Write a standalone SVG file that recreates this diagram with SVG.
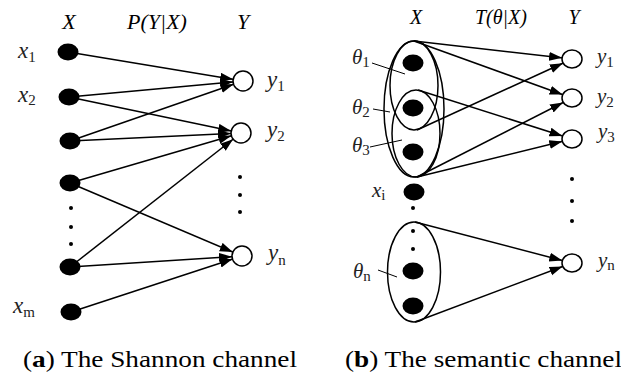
<svg xmlns="http://www.w3.org/2000/svg" width="621" height="379" viewBox="0 0 621 379">
<style>
text{font-family:"Liberation Serif","Times New Roman",serif;fill:#000}
.hl{font-size:22px;font-style:italic}
.hr{font-size:20px;font-style:italic}
.lab{font-size:23px;font-style:italic;fill:#222}
.labr{font-size:21px;font-style:italic;fill:#222}
.sub{font-size:15px;font-style:normal}
.cap{font-size:24px}
.edge{stroke:#000;stroke-width:1.5;fill:none;marker-end:url(#ah)}
.ptr{stroke:#000;stroke-width:1}
.xd{fill:#000}
.yc{fill:#fff;stroke:#000;stroke-width:1.5}
.ell{fill:none;stroke:#000;stroke-width:1.5}
.sd{fill:#000}
</style>
<defs>
<marker id="ah" markerUnits="userSpaceOnUse" markerWidth="14" markerHeight="10" refX="23" refY="4.5" orient="auto">
<path d="M0,0 L13,4.5 L0,9 z" fill="#000"/>
</marker>
</defs>

<!-- headers -->
<text class="hl" x="69" y="29" text-anchor="middle">X</text>
<text class="hl" x="157" y="29" text-anchor="middle">P(Y|X)</text>
<text class="hl" x="243" y="29" text-anchor="middle">Y</text>
<text class="hr" x="416" y="24" text-anchor="middle">X</text>
<text class="hr" x="501" y="24" text-anchor="middle">T(θ|X)</text>
<text class="hr" x="574" y="24" text-anchor="middle">Y</text>

<!-- connectors -->
<g id="connectors">
<line class="edge" x1="68" y1="52" x2="243" y2="81"/>
<line class="edge" x1="69" y1="97" x2="243" y2="81"/>
<line class="edge" x1="70" y1="141" x2="243" y2="81"/>
<line class="edge" x1="69" y1="97" x2="241" y2="133"/>
<line class="edge" x1="70" y1="141" x2="241" y2="133"/>
<line class="edge" x1="70" y1="183" x2="241" y2="133"/>
<line class="edge" x1="70" y1="267" x2="241" y2="133"/>
<line class="edge" x1="70" y1="183" x2="242" y2="256"/>
<line class="edge" x1="70" y1="267" x2="242" y2="256"/>
<line class="edge" x1="71" y1="312" x2="242" y2="256"/>

<line class="edge" x1="414" y1="41" x2="572" y2="59"/>
<line class="edge" x1="417" y1="130" x2="572" y2="59"/>
<line class="edge" x1="414" y1="41" x2="572" y2="98"/>
<line class="edge" x1="417" y1="177" x2="572" y2="98"/>
<line class="edge" x1="418" y1="90" x2="572" y2="139"/>
<line class="edge" x1="417" y1="177" x2="572" y2="139"/>
<line class="edge" x1="415" y1="222" x2="572" y2="263"/>
<line class="edge" x1="415" y1="322" x2="572" y2="263"/>
<line class="ptr" x1="372" y1="63" x2="405" y2="74"/>
<line class="ptr" x1="373" y1="109" x2="390" y2="112"/>
<line class="ptr" x1="370" y1="147" x2="402" y2="140"/>
<line class="ptr" x1="378" y1="270" x2="397" y2="277"/>
</g>

<!-- left X nodes -->
<g id="x1"><ellipse class="xd" cx="68" cy="52" rx="10.5" ry="8.5"/><text class="lab" x="18" y="58">x<tspan class="sub" y="62">1</tspan></text></g>
<g id="x2"><ellipse class="xd" cx="69" cy="97" rx="10.5" ry="8.5"/><text class="lab" x="18" y="102">x<tspan class="sub" y="105">2</tspan></text></g>
<g id="x3"><ellipse class="xd" cx="70" cy="141" rx="10.5" ry="8.5"/></g>
<g id="x4"><ellipse class="xd" cx="70" cy="183" rx="10.5" ry="8.5"/></g>
<g id="xdots"><circle class="sd" cx="71" cy="208" r="2"/><circle class="sd" cx="71" cy="227" r="2"/><circle class="sd" cx="71" cy="244" r="2"/></g>
<g id="x5"><ellipse class="xd" cx="70" cy="267" rx="10.5" ry="8.5"/></g>
<g id="xm"><ellipse class="xd" cx="71" cy="312" rx="10.5" ry="8.5"/><text class="lab" x="13" y="313">x<tspan class="sub" y="317">m</tspan></text></g>

<!-- left Y nodes -->
<g id="ly1"><circle class="yc" cx="243" cy="81" r="10"/><text class="lab" x="267" y="87">y<tspan class="sub" y="91">1</tspan></text></g>
<g id="ly2"><circle class="yc" cx="241" cy="133" r="10"/><text class="lab" x="267" y="137">y<tspan class="sub" y="141">2</tspan></text></g>
<g id="lydots"><circle class="sd" cx="240" cy="177" r="2"/><circle class="sd" cx="240" cy="195" r="2"/><circle class="sd" cx="240" cy="212" r="2"/></g>
<g id="lyn"><circle class="yc" cx="242" cy="256" r="10"/><text class="lab" x="268" y="260">y<tspan class="sub" y="265">n</tspan></text></g>

<!-- right theta sets -->
<g id="theta1"><ellipse class="ell" cx="414" cy="85.5" rx="24" ry="44.5"/><text class="labr" x="352" y="64">θ<tspan class="sub" y="67">1</tspan></text></g>
<g id="theta2"><ellipse class="ell" cx="414" cy="109" rx="30" ry="68"/><text class="labr" x="352" y="114">θ<tspan class="sub" y="117">2</tspan></text></g>
<g id="theta3"><ellipse class="ell" cx="416" cy="133.5" rx="24" ry="43.5"/><text class="labr" x="352" y="152">θ<tspan class="sub" y="155">3</tspan></text></g>
<g id="thetan"><ellipse class="ell" cx="414" cy="272" rx="26.5" ry="50"/><text class="labr" x="353" y="278">θ<tspan class="sub" y="281">n</tspan></text></g>

<!-- right X nodes -->
<g id="rx1"><ellipse class="xd" cx="413" cy="63" rx="10.5" ry="8.5"/></g>
<g id="rx2"><ellipse class="xd" cx="413" cy="108" rx="10.5" ry="8.5"/></g>
<g id="rx3"><ellipse class="xd" cx="413" cy="152" rx="10.5" ry="8.5"/></g>
<g id="rxi"><ellipse class="xd" cx="414" cy="192" rx="10.5" ry="8.5"/><text class="labr" x="372" y="197">x<tspan class="sub" y="200">i</tspan></text></g>
<g id="rxdots"><circle class="sd" cx="413" cy="208" r="2"/><circle class="sd" cx="413" cy="231" r="2"/><circle class="sd" cx="413" cy="249" r="2"/></g>
<g id="rx4"><ellipse class="xd" cx="413" cy="271" rx="10.5" ry="8.5"/></g>
<g id="rx5"><ellipse class="xd" cx="413" cy="306" rx="10.5" ry="8.5"/></g>

<!-- right Y nodes -->
<g id="ry1"><ellipse class="yc" cx="572" cy="59" rx="10" ry="9"/><text class="labr" x="597" y="63">y<tspan class="sub" y="67">1</tspan></text></g>
<g id="ry2"><ellipse class="yc" cx="572" cy="98" rx="10" ry="9"/><text class="labr" x="597" y="103">y<tspan class="sub" y="107">2</tspan></text></g>
<g id="ry3"><ellipse class="yc" cx="572" cy="139" rx="10" ry="9"/><text class="labr" x="598" y="138">y<tspan class="sub" y="142">3</tspan></text></g>
<g id="rydots"><circle class="sd" cx="572" cy="179" r="2"/><circle class="sd" cx="572" cy="201" r="2"/><circle class="sd" cx="572" cy="221" r="2"/></g>
<g id="ryn"><ellipse class="yc" cx="572" cy="263" rx="10" ry="9"/><text class="labr" x="598" y="267">y<tspan class="sub" y="270">n</tspan></text></g>

<!-- captions -->
<text class="cap" x="23" y="367" textLength="274" lengthAdjust="spacingAndGlyphs">(<tspan font-weight="bold">a</tspan>) The Shannon channel</text>
<text class="cap" x="345" y="367" textLength="277" lengthAdjust="spacingAndGlyphs">(<tspan font-weight="bold">b</tspan>) The semantic channel</text>
</svg>
